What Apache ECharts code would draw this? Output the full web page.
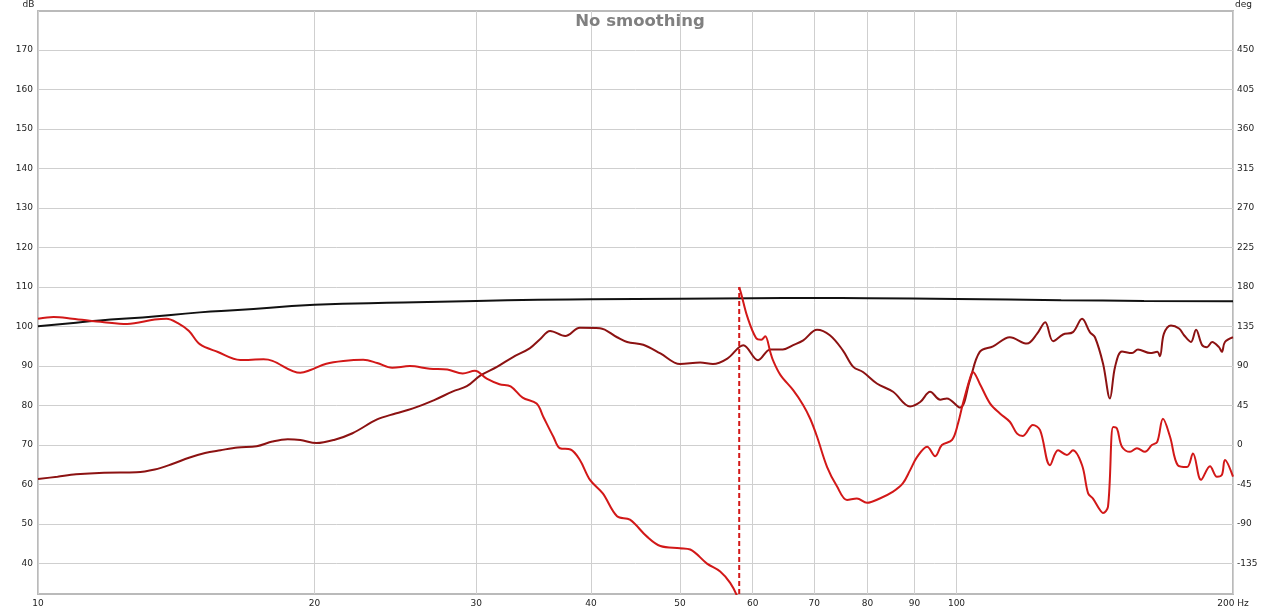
<!DOCTYPE html>
<html><head><meta charset="utf-8">
<script src="https://cdn.jsdelivr.net/npm/echarts@6/dist/echarts.min.js"></script>
<style>html,body{margin:0;padding:0;background:#fff}#c{width:1280px;height:611px}</style>
</head><body><div id="c"></div>
<script>
// ---- Data ----
const xTicks = [10, 20, 30, 40, 50, 60, 70, 80, 90, 100, 200];
const dbTicks = [40, 50, 60, 70, 80, 90, 100, 110, 120, 130, 140, 150, 160, 170];
const degTicks = [-135, -90, -45, 0, 45, 90, 135, 180, 225, 270, 315, 360, 405, 450];

// Black reference curve (dB)
const refFreq = [10, 11, 12, 13, 15, 16.5, 20, 25, 30, 35, 40, 50, 60, 70, 80, 100, 130, 160, 200];
const refDb   = [100.1, 101.0, 101.8, 102.3, 103.6, 104.2, 105.5, 106.1, 106.5, 106.8, 106.9, 107.05, 107.2, 107.25, 107.2, 107.0, 106.7, 106.5, 106.4];

// SPL curve, dark red (dB)
const splFreq = [10, 10.5, 11, 11.8, 12.8, 13.4, 14.0, 14.6, 15.2, 15.8, 16.5, 17.3, 18.0, 18.7, 19.3, 20.1, 21.0, 22.0, 23.4, 24.5, 25.6, 27.0, 28.3, 29.3, 30.3, 31.6, 32.9, 34.3, 35.2, 36.1, 37.5, 38.9, 40.9, 42.7, 43.8, 45.6, 47.6, 50, 52.6, 54.3, 56.3, 58.6, 60.8, 62.7, 64.7, 66.4, 68.1, 70.5, 72.8, 75.2, 77.2, 79.1, 81.9, 85.3, 89.0, 91.3, 93.6, 96.0, 97.6, 100.9, 103.4, 106, 109.6, 114.3, 119.3, 122.4, 124.9, 127.4, 130.6, 133.9, 137, 139.7, 141.5, 144.4, 146.9, 148.8, 151.4, 155.3, 157.6, 162.5, 165.4, 166.5, 168.2, 171.2, 174.7, 176.9, 180, 182.3, 185.1, 187.4, 189.8, 193.1, 194.5, 196, 200];
const splDb   = [61.4, 62.0, 62.6, 63.0, 63.1, 63.8, 65.2, 66.8, 68.0, 68.7, 69.4, 69.7, 70.9, 71.5, 71.3, 70.5, 71.3, 73.0, 76.5, 78.0, 79.3, 81.4, 83.6, 84.9, 87.6, 89.8, 92.3, 94.5, 96.8, 98.9, 97.6, 99.7, 99.6, 97.3, 96.1, 95.4, 93.2, 90.5, 90.9, 90.5, 91.9, 95.3, 91.5, 94.2, 94.2, 95.3, 96.5, 99.2, 97.8, 94.0, 89.8, 88.5, 85.6, 83.5, 79.8, 80.9, 83.5, 81.5, 81.8, 79.5, 86.4, 93.6, 95.0, 97.3, 95.7, 98.2, 101.1, 96.3, 98.0, 98.6, 102.0, 98.6, 97.3, 90.6, 81.8, 89.8, 93.7, 93.3, 94.2, 93.3, 93.6, 92.5, 98.2, 100.3, 99.5, 97.8, 96.1, 99.2, 95.3, 94.8, 96.1, 94.8, 93.6, 96.1, 97.3];

// Phase, bright red (deg), before and after the wrap at 58 Hz
const phaseFreqA = [10, 10.4, 10.9, 11.8, 12.5, 13.4, 13.8, 14.2, 14.6, 15.0, 15.7, 16.6, 17.6, 18.0, 19.3, 19.8, 20.6, 21.5, 22.6, 23.4, 24.3, 25.4, 26.7, 27.9, 29.0, 29.9, 30.8, 31.8, 32.7, 33.7, 34.9, 35.5, 36.4, 37.0, 38.0, 38.9, 39.9, 41.2, 42.7, 44.1, 46.0, 47.6, 50, 51.3, 53.5, 55.3, 56.7, 57.7, 57.95];
const phaseDegA  = [144, 146, 144, 140, 138, 143, 144, 139, 130, 115, 106, 97, 97.7, 96, 82.4, 85.5, 92.7, 95.9, 97.2, 93.6, 88.2, 90, 86.9, 86, 81.5, 84.6, 75.6, 69.3, 67, 54, 47.3, 32, 9.5, -3.6, -5, -17, -39.6, -55, -81, -85, -104, -115, -117.5, -119, -135, -144, -157, -172, -180];
const phaseFreqB = [58.0, 58.3, 59.2, 60.5, 61.3, 61.9, 62.7, 63.1, 64.3, 66.4, 68.1, 69.3, 70.5, 72.3, 74.1, 76.0, 77.9, 79.9, 82.5, 85.3, 87.4, 89, 90.6, 92.9, 94.8, 96.4, 98.9, 100.4, 101.6, 103.4, 104.2, 106, 108.8, 111.5, 114.3, 116.4, 118.1, 121.1, 123.3, 126.4, 129, 131.9, 133.9, 137, 139.1, 140.8, 143.3, 144.4, 146.2, 148.1, 149.5, 151.4, 154.5, 157.2, 160.4, 163.2, 165.4, 167.8, 170.8, 174.2, 178.2, 180.9, 184.6, 188.8, 192.1, 194.5, 196, 200];
const phaseDegB  = [180, 172, 146, 122, 120, 124, 106, 97, 80, 62.6, 45.5, 30, 9.5, -25, -47, -62.6, -60.8, -65.7, -60.8, -53, -43.7, -28.8, -13.5, -1.8, -12.6, 0, 6, 25, 47, 75.6, 83.3, 70, 47.3, 36, 26.6, 13, 10.4, 23, 17, -23, -6, -11.3, -6, -23, -55, -61, -74, -77.4, -70, 20.7, 19, -1.8, -7.7, -3.6, -7.7, 0, 3.6, 30, 9.5, -23, -25, -9.5, -39.6, -24, -36, -34, -17, -36];

// Phase wrap marker
const wrapFreq = 58.0;
const wrapDegTop = 180;

// ---- Chart ----
const DB_MIN = 32.3, DB_MAX = 179.9;
const DEG_MIN = DB_MIN * 4.5 - 315, DEG_MAX = DB_MAX * 4.5 - 315;
const font = 'DejaVu Sans, Verdana, sans-serif';
const zip = (a, b) => a.map((v, i) => [v, b[i]]);
const phaseData = zip(phaseFreqA, phaseDegA).concat([[57.98, '-']], zip(phaseFreqB, phaseDegB));

const chart = echarts.init(document.getElementById('c'));
chart.setOption({
  animation: false,
  backgroundColor: '#fff',
  title: {
    text: 'No smoothing', left: 'center', top: 13, padding: 0,
    textStyle: { fontFamily: font, fontSize: 16.5, fontWeight: 'bold', color: '#808080' }
  },
  grid: { left: 38, right: 47, top: 11, bottom: 17, show: true, borderColor: '#bababa', borderWidth: 2 },
  xAxis: {
    type: 'log', logBase: 10, min: 10, max: 200,
    axisLine: { show: false },
    axisTick: { show: false, customValues: xTicks },
    axisLabel: {
      customValues: xTicks, margin: 5, fontSize: 9, fontFamily: font, color: '#222',
      formatter: v => (Math.abs(v - 200) < 1e-6 ? '200 Hz' : String(Math.round(v)))
    },
    splitLine: { show: true, lineStyle: { color: '#cfcfcf', width: 1 } },
    minorTick: { show: false }, minorSplitLine: { show: false }
  },
  yAxis: [
    {
      type: 'value', min: DB_MIN, max: DB_MAX, position: 'left',
      axisLine: { show: false },
      axisTick: { show: false, customValues: dbTicks },
      axisLabel: { customValues: dbTicks, margin: 5, fontSize: 9, fontFamily: font, color: '#222' },
      splitLine: { show: true, lineStyle: { color: '#cfcfcf', width: 1 } }
    },
    {
      type: 'value', min: DEG_MIN, max: DEG_MAX, position: 'right',
      axisLine: { show: false },
      axisTick: { show: false, customValues: degTicks },
      axisLabel: { customValues: degTicks, margin: 4, fontSize: 9, fontFamily: font, color: '#222' },
      splitLine: { show: false }
    }
  ],
  graphic: [
    { type: 'text', x: 28.5, y: 5, style: { text: 'dB', font: '9px ' + font, fill: '#222', textAlign: 'center', textVerticalAlign: 'middle' } },
    { type: 'text', x: 1243.5, y: 5, style: { text: 'deg', font: '9px ' + font, fill: '#222', textAlign: 'center', textVerticalAlign: 'middle' } }
  ],
  series: [
    {
      name: 'ref', type: 'line', yAxisIndex: 0, data: zip(refFreq, refDb), smooth: true,
      showSymbol: false, lineStyle: { color: '#111', width: 2 }, z: 3
    },
    {
      name: 'SPL', type: 'line', yAxisIndex: 0, data: zip(splFreq, splDb), smooth: 0.35,
      showSymbol: false, lineStyle: { color: '#8c1212', width: 2 }, z: 4
    },
    {
      name: 'Phase', type: 'line', yAxisIndex: 1, data: phaseData, smooth: 0.35,
      showSymbol: false, connectNulls: false, lineStyle: { color: '#d21818', width: 2 }, z: 5
    },
    {
      name: 'wrap', type: 'line', yAxisIndex: 1, data: [[wrapFreq, DEG_MIN], [wrapFreq, wrapDegTop]],
      showSymbol: false, lineStyle: { color: '#d21818', width: 2, type: [5, 3] }, z: 5
    }
  ]
});
</script></body></html>
